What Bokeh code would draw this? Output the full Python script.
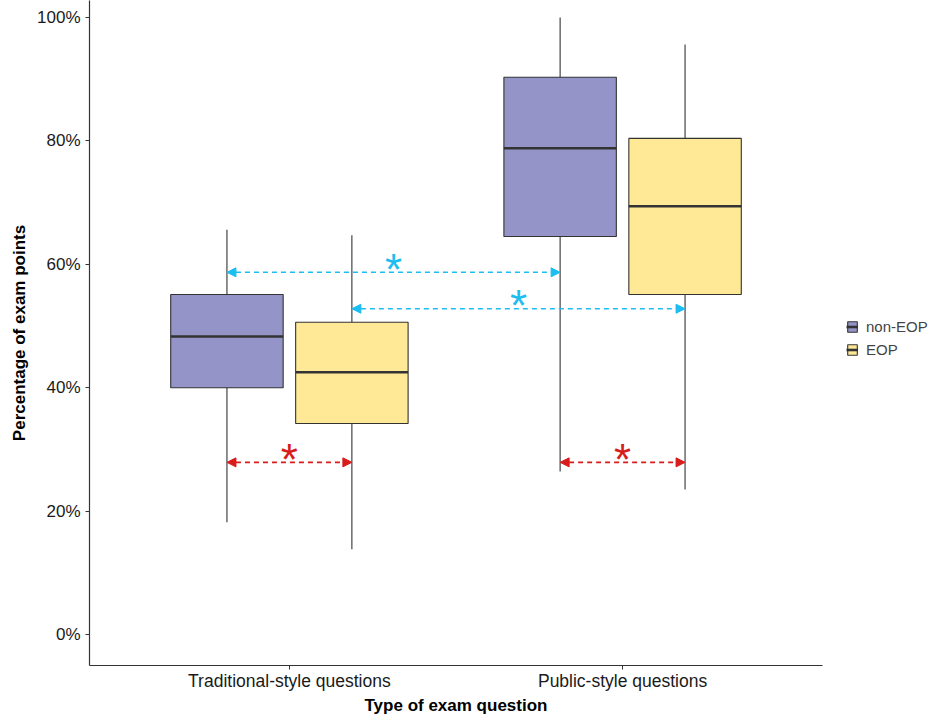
from bokeh.plotting import figure
from bokeh.models import (ColumnDataSource, FixedTicker, Legend, LegendItem,
                          Arrow, NormalHead, Range1d, Title)
from bokeh.core.properties import value
from bokeh.embed import file_html
from bokeh.resources import INLINE

# ---------------- data ----------------
categories = ["Traditional-style questions", "Public-style questions"]
groups = ["non-EOP", "EOP"]

nonEOP_low = [18.2, 26.4]
nonEOP_q1 = [40.0, 64.5]
nonEOP_med = [48.3, 78.8]
nonEOP_q3 = [55.1, 90.3]
nonEOP_high = [65.6, 100.0]

EOP_low = [13.8, 23.5]
EOP_q1 = [34.2, 55.1]
EOP_med = [42.5, 69.4]
EOP_q3 = [50.6, 80.4]
EOP_high = [64.7, 95.6]

y_ticks = [0, 20, 40, 60, 80, 100]
y_tick_labels = ["0%", "20%", "40%", "60%", "80%", "100%"]

# significance comparisons: (category, group) -> (category, group) at level
cmp_from_cat = [0, 0, 0, 1]
cmp_from_grp = [0, 1, 0, 0]
cmp_to_cat = [1, 1, 0, 1]
cmp_to_grp = [0, 1, 1, 1]
cmp_level = [58.7, 52.8, 27.9, 27.9]
cmp_kind = ["between", "between", "within", "within"]

x_title = "Type of exam question"
y_title = "Percentage of exam points"

# ---------------- styles ----------------
fills = {"non-EOP": "#9494C8", "EOP": "#FFE996"}
kind_color = {"between": "#1CBDF0", "within": "#D81B1B"}
dodge = {0: -0.1875, 1: 0.1875}
box_w = 0.3375
FONT = "Liberation Sans"
DARK = "#333333"

# x axis line covers 0.4..2.6; the frame continues to the right to host the legend
p = figure(frame_width=862, frame_height=665, output_backend="svg", toolbar_location=None,
           x_range=Range1d(0.4, 0.4 + 2.2 * 862 / 733), y_range=Range1d(-5.02, 102.75),
           min_border_left=89, min_border_right=0, min_border_top=0,
           min_border_bottom=40)
p.outline_line_color = None
p.grid.visible = False
p.background_fill_color = "white"

series = {
    "non-EOP": (nonEOP_low, nonEOP_q1, nonEOP_med, nonEOP_q3, nonEOP_high),
    "EOP": (EOP_low, EOP_q1, EOP_med, EOP_q3, EOP_high),
}

legend_items = []
for gi, g in enumerate(groups):
    low, q1, med, q3, high = series[g]
    xs = [i + 1 + dodge[gi] for i in range(len(categories))]
    src = ColumnDataSource(dict(x=xs, low=low, q1=q1, med=med, q3=q3, high=high,
                                x0=[x - box_w / 2 for x in xs],
                                x1=[x + box_w / 2 for x in xs]))
    p.segment(x0="x", y0="low", x1="x", y1="q1", source=src, line_color=DARK, line_width=1.1)
    p.segment(x0="x", y0="q3", x1="x", y1="high", source=src, line_color=DARK, line_width=1.1)
    r = p.vbar(x="x", bottom="q1", top="q3", width=box_w, source=src,
               fill_color=fills[g], line_color=DARK, line_width=1.1)
    rm = p.segment(x0="x0", y0="med", x1="x1", y1="med", source=src, line_color=DARK, line_width=2.6)
    legend_items.append(LegendItem(label=g, renderers=[r, rm]))

# comparisons
for k in range(len(cmp_level)):
    xa = cmp_from_cat[k] + 1 + dodge[cmp_from_grp[k]]
    xb = cmp_to_cat[k] + 1 + dodge[cmp_to_grp[k]]
    c = kind_color[cmp_kind[k]]
    p.add_layout(Arrow(x_start=xa, y_start=cmp_level[k], x_end=xb, y_end=cmp_level[k],
                       line_color=c, line_width=1.6, line_dash="5 4",
                       start=NormalHead(size=9, fill_color=c, line_color=c),
                       end=NormalHead(size=9, fill_color=c, line_color=c)))
    p.text(x=[(xa + xb) / 2], y=[cmp_level[k]], text=["*"], text_color=c,
           text_font=value(FONT), text_font_size="44px", text_align="center",
           text_baseline="middle", y_offset=-3)

# axes
p.xaxis.ticker = FixedTicker(ticks=[i + 1 for i in range(len(categories))])
p.xaxis.major_label_overrides = {i + 1: c for i, c in enumerate(categories)}
p.xaxis.bounds = (0.4, 2.6)
p.yaxis.ticker = FixedTicker(ticks=y_ticks)
p.yaxis.major_label_overrides = {t: l for t, l in zip(y_ticks, y_tick_labels)}
for ax in (p.xaxis, p.yaxis):
    ax.axis_line_color = DARK
    ax.axis_line_width = 1.2
    ax.major_tick_line_color = DARK
    ax.major_tick_in = 0
    ax.major_tick_out = 4
    ax.minor_tick_line_color = None
    ax.major_label_text_font = FONT
    ax.major_label_text_font_size = "17px"
    ax.major_label_text_color = "#1a1a1a"
    ax.axis_label_text_font = FONT
    ax.axis_label_text_font_size = "17px"
    ax.axis_label_text_font_style = "bold"
    ax.axis_label_text_color = "black"
p.xaxis.major_label_text_font_size = "17.5px"
p.xaxis.major_label_standoff = 1
p.yaxis.axis_label = y_title
p.yaxis.major_label_standoff = 5
p.yaxis.axis_label_standoff = 5

# x-axis title, centred under the axis line rather than the whole frame
p.add_layout(Title(text=x_title, align="left", offset=275, standoff=0,
                   text_font=FONT, text_font_size="17px", text_font_style="bold",
                   text_color="black"), "below")

legend = Legend(items=legend_items, location=(749, 299), orientation="vertical",
                border_line_alpha=0, background_fill_alpha=0,
                label_text_font=FONT, label_text_font_size="15px",
                label_standoff=8, glyph_width=12, glyph_height=13,
                spacing=6, padding=8, margin=0)
p.add_layout(legend)

open("out.html", "w").write(file_html(p, INLINE))
